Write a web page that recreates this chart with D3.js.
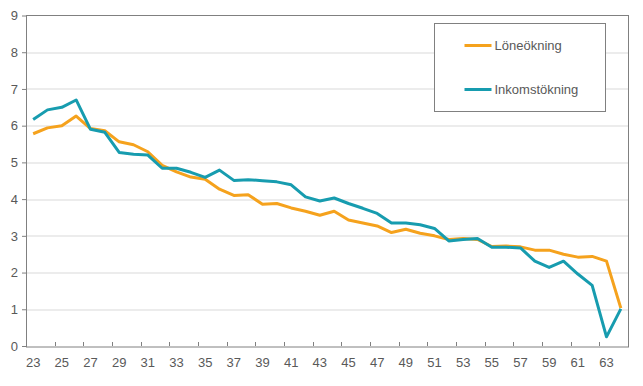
<!DOCTYPE html>
<html>
<head>
<meta charset="utf-8">
<script src="https://cdn.jsdelivr.net/npm/d3@7"></script>
<style>
  body { margin: 0; background: #fff; }
  text { font-family: "Liberation Sans", Arial, sans-serif; fill: #595959; }
</style>
</head>
<body>
<div id="chart"></div>
<script>
// ålder 23–64
const ages = d3.range(23, 65);
const xTickLabels = d3.range(23, 64, 2);
const yTicks = [0, 1, 2, 3, 4, 5, 6, 7, 8, 9];

const seriesNames = ["Löneökning", "Inkomstökning"];
const loneokning = [5.78, 5.94, 6.0, 6.26, 5.92, 5.86, 5.56, 5.48, 5.29, 4.92,
  4.74, 4.6, 4.54, 4.27, 4.1, 4.12, 3.86, 3.88, 3.76, 3.67,
  3.56, 3.67, 3.43, 3.35, 3.27, 3.09, 3.18, 3.07, 3.0, 2.9,
  2.93, 2.9, 2.71, 2.72, 2.7, 2.61, 2.61, 2.5, 2.42, 2.44,
  2.31, 1.03];
const inkomstokning = [6.17, 6.43, 6.5, 6.7, 5.9, 5.82, 5.27, 5.22, 5.2, 4.84,
  4.84, 4.73, 4.59, 4.79, 4.51, 4.53, 4.5, 4.47, 4.39, 4.06,
  3.95, 4.03, 3.88, 3.75, 3.61, 3.35, 3.35, 3.3, 3.2, 2.86,
  2.9, 2.93, 2.69, 2.69, 2.67, 2.31, 2.14, 2.31, 1.96, 1.65,
  0.25, 1.01];
const colors = ["#F5A21D", "#179CAF"];

const W = 643, H = 386;
const margin = { top: 15.5, right: 15, bottom: 40, left: 26 };
const width = W - margin.left - margin.right;
const height = H - margin.top - margin.bottom;

const svg = d3.select("#chart").append("svg")
    .attr("width", W)
    .attr("height", H);

const g = svg.append("g")
    .attr("transform", `translate(${margin.left},${margin.top})`);

const x = d3.scaleBand().domain(ages).range([0, width]);
const y = d3.scaleLinear().domain([0, 9]).range([height, 0]);

// rutnät
g.selectAll(".grid")
    .data(yTicks.slice(1, -1))
    .enter().append("line")
    .attr("x1", 0).attr("x2", width)
    .attr("y1", d => Math.round(y(d)) + 0.5)
    .attr("y2", d => Math.round(y(d)) + 0.5)
    .attr("stroke", "#d9d9d9");

// ram
g.append("rect")
    .attr("x", 0.5).attr("y", 0)
    .attr("width", width).attr("height", Math.round(height) + 0.5)
    .attr("fill", "none")
    .attr("stroke", "#808080");

// y-axel
const yAxis = g.append("g")
    .call(d3.axisLeft(y).tickValues(yTicks).tickSize(4).tickPadding(4));
yAxis.select(".domain").remove();
yAxis.selectAll("line").attr("stroke", "#808080");
yAxis.selectAll("text").style("font-size", "13px").attr("fill", "#595959");

// x-axel (streck mellan kategorierna, inåt)
const xg = g.append("g").attr("transform", `translate(0,${height})`);
xg.selectAll(".tick")
    .data(ages.filter((d, i) => i > 0 && i % 2 === 0))
    .enter().append("line")
    .attr("x1", d => Math.round(x(d)) + 0.5)
    .attr("x2", d => Math.round(x(d)) + 0.5)
    .attr("y1", 0).attr("y2", -4)
    .attr("stroke", "#808080");
xg.selectAll(".lbl")
    .data(xTickLabels)
    .enter().append("text")
    .attr("x", d => x(d) + x.bandwidth() / 2)
    .attr("y", 21)
    .attr("text-anchor", "middle")
    .style("font-size", "13px")
    .text(d => d);

// linjer
const line = d3.line()
    .x((d, i) => x(ages[i]) + x.bandwidth() / 2)
    .y(d => y(d));

[loneokning, inkomstokning].forEach((s, k) => {
    g.append("path")
        .datum(s)
        .attr("fill", "none")
        .attr("stroke", colors[k])
        .attr("stroke-width", 3)
        .attr("stroke-linejoin", "round")
        .attr("d", line);
});

// förklaring
const lg = svg.append("g").attr("transform", "translate(434.5,23.5)");
lg.append("rect")
    .attr("width", 171).attr("height", 88)
    .attr("fill", "#fff")
    .attr("stroke", "#808080");
seriesNames.forEach((name, k) => {
    const yy = 22 + k * 44;
    lg.append("line")
        .attr("x1", 30).attr("x2", 57)
        .attr("y1", yy).attr("y2", yy)
        .attr("stroke", colors[k])
        .attr("stroke-width", 3);
    lg.append("text")
        .attr("x", 60).attr("y", yy)
        .attr("dy", "0.35em")
        .style("font-size", "13px")
        .text(name);
});
</script>
</body>
</html>
